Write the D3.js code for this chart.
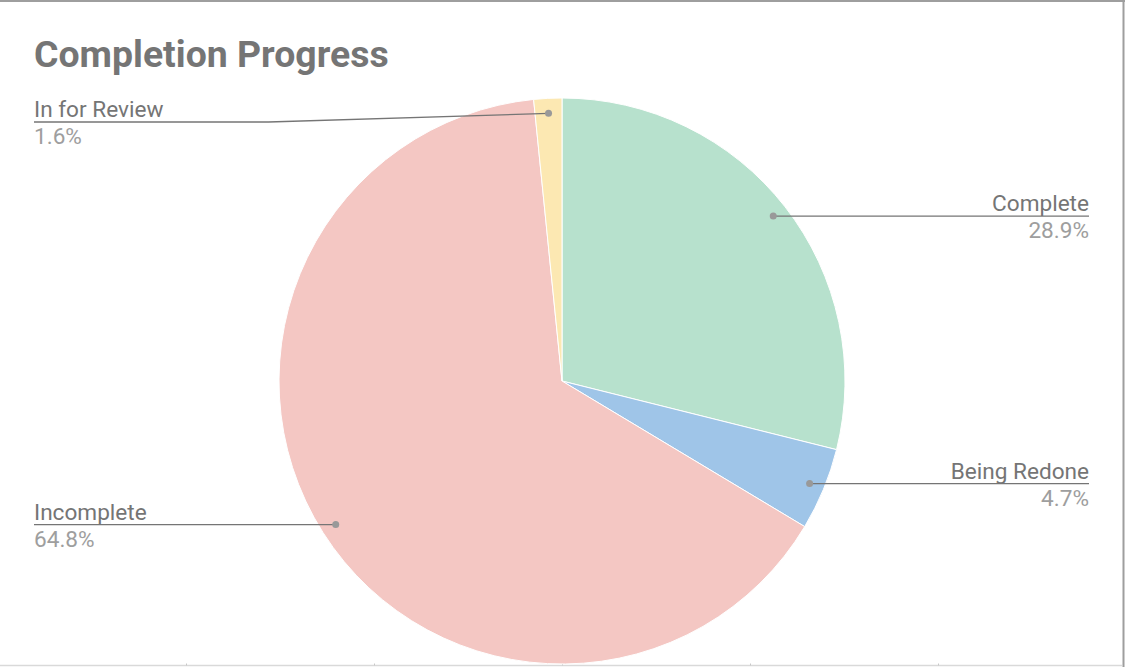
<!DOCTYPE html>
<html><head><meta charset="utf-8">
<script src="https://cdn.jsdelivr.net/npm/d3@7"></script>
<style>
html,body{margin:0;padding:0;background:#fff;}
svg{display:block;font-family:Roboto,"Noto Sans",sans-serif;}
</style></head>
<body>
<svg id="chart" width="1126" height="667"></svg>
<script>
const title = "Completion Progress";
const categories = ["Complete", "Being Redone", "Incomplete", "In for Review"];
const values = [28.9, 4.7, 64.8, 1.6];
const colors = ["#b7e1cd", "#9fc5e8", "#f4c7c3", "#fce8b2"];
const labelSide = ["right", "right", "left", "left"];

const W = 1126, H = 667;
const svg = d3.select("#chart");
const cx = 562, cy = 381, R = 283;

// frame
svg.append("line").attr("x1", 0).attr("x2", 1125).attr("y1", 1).attr("y2", 1)
  .attr("stroke", "#9e9e9e").attr("stroke-width", 2);
svg.append("line").attr("x1", 1123.5).attr("x2", 1123.5).attr("y1", 0).attr("y2", 667)
  .attr("stroke", "#9e9e9e").attr("stroke-width", 2);

// bottom faint axis
const xs = d3.scaleLinear().domain([0, 6]).range([-2, 1126]);
const axisG = svg.append("g").attr("transform", `translate(0,665.5)`);
axisG.append("line").attr("x1", 0).attr("x2", 1122).attr("stroke", "#d9d9d9").attr("stroke-width", 1.5);
axisG.selectAll("line.t").data(d3.range(1, 6)).join("line").attr("class", "t")
  .attr("x1", d => Math.round(xs(d)) + 0.5).attr("x2", d => Math.round(xs(d)) + 0.5)
  .attr("y1", -2).attr("y2", 0).attr("stroke", "#c8c8c8");

// title
svg.append("text").attr("x", 34).attr("y", 67).text(title)
  .attr("font-size", 37.4).attr("font-weight", "bold").attr("fill", "#757575");

const data = categories.map((c, i) => ({ name: c, value: values[i], color: colors[i], side: labelSide[i] }));
const pie = d3.pie().value(d => d.value).sort(null);
const arcs = pie(data);
const arc = d3.arc().innerRadius(0).outerRadius(R);
const g = svg.append("g").attr("transform", `translate(${cx},${cy})`);
g.selectAll("path").data(arcs).join("path")
  .attr("d", arc).attr("fill", d => d.data.color)
  .attr("stroke", "#fff").attr("stroke-width", 1);

const rDot = R * 0.947;
const leftX = 34, rightX = 1089;
const labelY = { "Complete": 214, "Being Redone": 483, "Incomplete": 524, "In for Review": 122 };

arcs.forEach(a => {
  const m = (a.startAngle + a.endAngle) / 2;
  const dx = cx + rDot * Math.sin(m), dy = cy - rDot * Math.cos(m);
  const ly = labelY[a.data.name];
  const endX = a.data.side === "right" ? rightX : leftX;
  let pts;
  if (Math.abs(ly - dy) > 3) {
    const bend = a.data.side === "right" ? dx + 280 : dx - 280;
    pts = [[dx, dy], [bend, ly], [endX, ly]];
  } else {
    pts = [[dx, dy], [endX, dy]];
  }
  const lineY = pts[pts.length - 1][1];
  svg.append("path").attr("d", d3.line()(pts)).attr("fill", "none")
    .attr("stroke", "#757575").attr("stroke-width", 1.3);
  svg.append("circle").attr("cx", dx).attr("cy", dy).attr("r", 3.5).attr("fill", "#999");
  const anchor = a.data.side === "right" ? "end" : "start";
  svg.append("text").attr("x", endX).attr("y", lineY - 5).attr("text-anchor", anchor)
    .attr("font-size", 22.6).attr("fill", "#757575").text(a.data.name);
  svg.append("text").attr("x", endX).attr("y", lineY + 22).attr("text-anchor", anchor)
    .attr("font-size", 22.6).attr("fill", "#9e9e9e").text(d3.format(".1f")(a.data.value) + "%");
});
</script>
</body></html>
